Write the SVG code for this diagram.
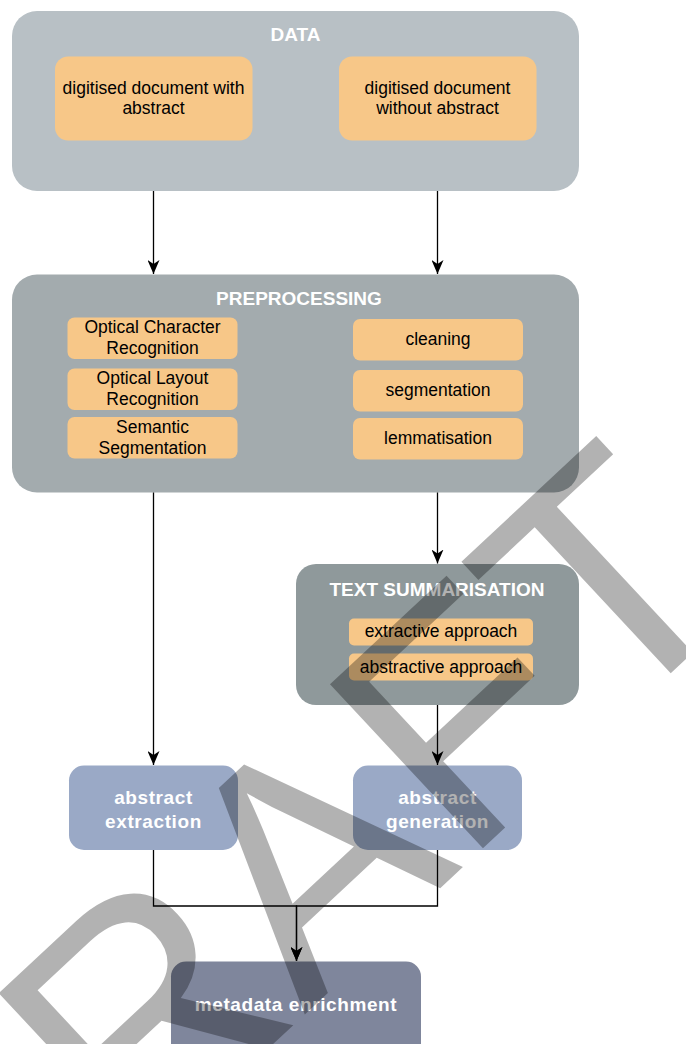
<svg xmlns="http://www.w3.org/2000/svg" width="686" height="1044" viewBox="0 0 686 1044">
<style>
.org{fill:#f7c788}
.blu{fill:#9aa9c6}
.t{font-family:"Liberation Sans",Arial,sans-serif;font-size:17.5px;fill:#000;text-anchor:middle}
.h{font-family:"Liberation Sans",Arial,sans-serif;font-size:19px;font-weight:bold;fill:#fff;text-anchor:middle}
.w{font-family:"Liberation Sans",Arial,sans-serif;font-size:19px;font-weight:bold;fill:#fff;text-anchor:middle;letter-spacing:0.6px}
.c{fill:none;stroke:#000;stroke-width:1.3}
</style>
<defs>
<marker id="arr" markerUnits="userSpaceOnUse" markerWidth="14" markerHeight="12" viewBox="0 0 14 12" refX="14" refY="6" orient="auto">
<path d="M0,0 L14,6 L0,12 L4,6 Z" fill="#000"/>
</marker>
</defs>
<rect width="686" height="1044" fill="#fff"/>

<g id="data">
<rect x="12" y="11" width="567" height="180" rx="25" fill="#b8c0c5"/>
<text class="h" x="295.5" y="41">DATA</text>
</g>
<g id="doc-with">
<rect class="org" x="55" y="56.5" width="197.5" height="84" rx="13"/>
<text class="t" x="153.5" y="94">digitised document with</text>
<text class="t" x="153.5" y="114">abstract</text>
</g>
<g id="doc-without">
<rect class="org" x="339" y="56.5" width="197.5" height="84" rx="13"/>
<text class="t" x="437.5" y="94">digitised document</text>
<text class="t" x="437.5" y="114">without abstract</text>
</g>

<g id="preprocessing">
<rect x="12" y="274.5" width="567" height="218" rx="25" fill="#a3abae"/>
<text class="h" x="299" y="305">PREPROCESSING</text>
</g>
<g id="ocr">
<rect class="org" x="67.5" y="317.5" width="170" height="41.5" rx="7"/>
<text class="t" x="152.5" y="333">Optical Character</text>
<text class="t" x="152.5" y="354">Recognition</text>
</g>
<g id="olr">
<rect class="org" x="67.5" y="368.5" width="170" height="41.5" rx="7"/>
<text class="t" x="152.5" y="384">Optical Layout</text>
<text class="t" x="152.5" y="405">Recognition</text>
</g>
<g id="semseg">
<rect class="org" x="67.5" y="417" width="170" height="41.5" rx="7"/>
<text class="t" x="152.5" y="433">Semantic</text>
<text class="t" x="152.5" y="454">Segmentation</text>
</g>
<g id="cleaning">
<rect class="org" x="353" y="319" width="170" height="41.5" rx="7"/>
<text class="t" x="438" y="345">cleaning</text>
</g>
<g id="segmentation">
<rect class="org" x="353" y="370" width="170" height="41.5" rx="7"/>
<text class="t" x="438" y="396">segmentation</text>
</g>
<g id="lemmatisation">
<rect class="org" x="353" y="418" width="170" height="41.5" rx="7"/>
<text class="t" x="438" y="444">lemmatisation</text>
</g>

<g id="text-summarisation">
<rect x="296" y="564" width="283" height="141" rx="20" fill="#8f999b"/>
<text class="h" x="437" y="596">TEXT SUMMARISATION</text>
</g>
<g id="extractive">
<rect class="org" x="349" y="618.5" width="184" height="27" rx="5"/>
<text class="t" x="441" y="637">extractive approach</text>
</g>
<g id="abstractive">
<rect class="org" x="349" y="653.5" width="184" height="27" rx="5"/>
<text class="t" x="441" y="673">abstractive approach</text>
</g>

<g id="abstract-extraction">
<rect class="blu" x="69" y="765.5" width="169" height="84.5" rx="15"/>
<text class="w" x="153.5" y="804">abstract</text>
<text class="w" x="153.5" y="828">extraction</text>
</g>
<g id="abstract-generation">
<rect class="blu" x="353" y="765.5" width="169" height="84.5" rx="15"/>
<text class="w" x="437.5" y="804">abstract</text>
<text class="w" x="437.5" y="828">generation</text>
</g>
<g id="metadata-enrichment">
<rect x="171" y="961.5" width="250" height="100" rx="15" fill="#7f869c"/>
<text class="w" x="296" y="1011" letter-spacing="0.9">metadata enrichment</text>
</g>

<g id="connectors">
<path class="c" d="M153.5,191 V274" marker-end="url(#arr)"/>
<path class="c" d="M437.5,191 V274" marker-end="url(#arr)"/>
<path class="c" d="M153.5,492.5 V765" marker-end="url(#arr)"/>
<path class="c" d="M437.5,492.5 V563.5" marker-end="url(#arr)"/>
<path class="c" d="M437.5,705 V765" marker-end="url(#arr)"/>
<path class="c" d="M153.5,850 V906 H296.5 V961" marker-end="url(#arr)"/>
<path class="c" d="M437.5,850 V906 H296.5 V961" marker-end="url(#arr)"/>
</g>

<g id="watermark">
<text x="0" y="0" transform="translate(-40,1336) rotate(-43)" font-family="Liberation Sans, Arial, sans-serif" font-size="326" fill="#000" fill-opacity="0.3">DRAFT</text>
</g>
</svg>
